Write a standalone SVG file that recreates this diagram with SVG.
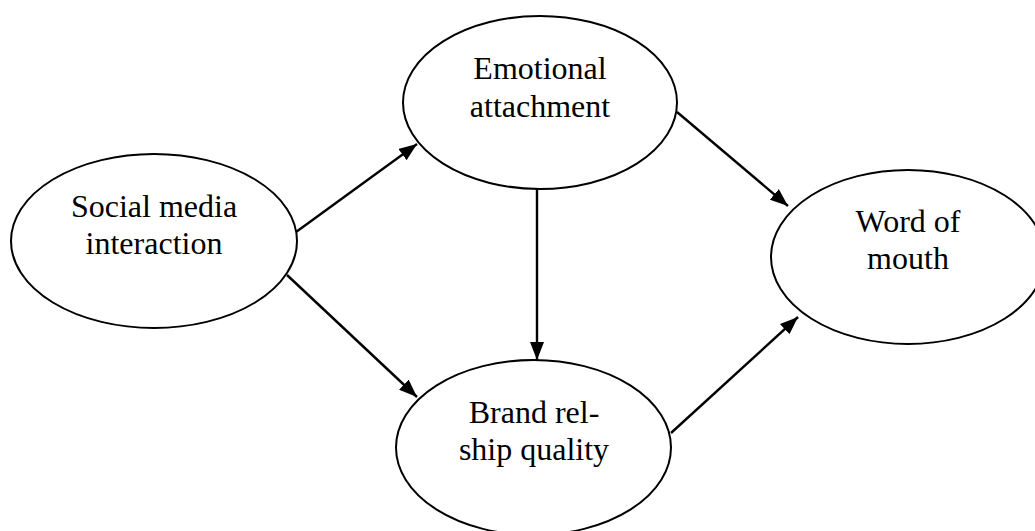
<svg xmlns="http://www.w3.org/2000/svg" width="1035" height="531" viewBox="0 0 1035 531">
  <style>
    .node ellipse { fill: #ffffff; stroke: #000000; stroke-width: 2; }
    .node text { font-family: "Liberation Serif", "Times New Roman", serif; font-size: 32px; fill: #000000; text-anchor: middle; }
    .edge { stroke: #000000; stroke-width: 2.4; fill: none; marker-end: url(#arrow); }
  </style>
  <defs>
    <marker id="arrow" markerUnits="userSpaceOnUse" markerWidth="18" markerHeight="14" refX="18" refY="7" orient="auto">
      <path d="M0,0 L18,7 L0,14 z" fill="#000000"/>
    </marker>
  </defs>
  <rect x="0" y="0" width="1035" height="531" fill="#ffffff"/>

  <!-- connectors -->
  <g id="connectors">
    <line class="edge" x1="296" y1="232" x2="417" y2="144"/>
    <line class="edge" x1="287" y1="275" x2="417" y2="397"/>
    <line class="edge" x1="537" y1="189" x2="537" y2="360"/>
    <line class="edge" x1="677" y1="112" x2="788" y2="206"/>
    <line class="edge" x1="671" y1="433" x2="798" y2="317"/>
  </g>

  <!-- nodes -->
  <g id="social-media-interaction" class="node">
    <ellipse cx="154" cy="241" rx="143" ry="87"/>
    <text x="154" y="217">Social media</text>
    <text x="154" y="254">interaction</text>
  </g>
  <g id="emotional-attachment" class="node">
    <ellipse cx="540" cy="102.5" rx="137" ry="86.5"/>
    <text x="540" y="79">Emotional</text>
    <text x="540" y="117">attachment</text>
  </g>
  <g id="brand-relationship-quality" class="node">
    <ellipse cx="533.5" cy="447.5" rx="137.5" ry="87.5"/>
    <text x="534" y="423">Brand rel-</text>
    <text x="534" y="460">ship quality</text>
  </g>
  <g id="word-of-mouth" class="node">
    <ellipse cx="908" cy="257" rx="137" ry="87"/>
    <text x="908" y="232">Word of</text>
    <text x="908" y="269">mouth</text>
  </g>
</svg>
